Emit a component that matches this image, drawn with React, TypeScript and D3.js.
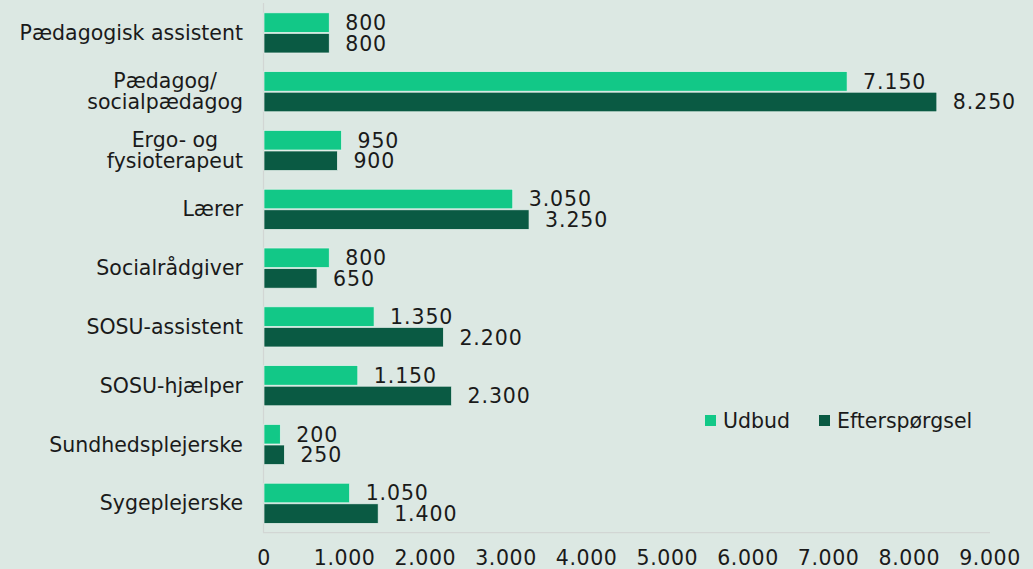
import React from "react";
import * as d3 from "d3";

const categories = [
  "Pædagogisk assistent",
  "Pædagog/\nsocialpædagog",
  "Ergo- og\nfysioterapeut",
  "Lærer",
  "Socialrådgiver",
  "SOSU-assistent",
  "SOSU-hjælper",
  "Sundhedsplejerske",
  "Sygeplejerske",
];
const udbud = [800, 7150, 950, 3050, 800, 1350, 1150, 200, 1050];
const efterspoergsel = [800, 8250, 900, 3250, 650, 2200, 2300, 250, 1400];
const xTicks = [0, 1000, 2000, 3000, 4000, 5000, 6000, 7000, 8000, 9000];
const seriesNames = ["Udbud", "Efterspørgsel"];

const width = 1033;
const height = 569;
const fontFamily = "'DejaVu Sans', sans-serif";
const fontSize = 20.5;
const textColor = "#1a1a1a";
const colors = ["#12c887", "#0a5a43"];

const fmt = (v: number) => d3.format(",")(v).replace(/,/g, ".");

let ctx: CanvasRenderingContext2D | null = null;
const measure = (s: string) => {
  if (!ctx) ctx = document.createElement("canvas").getContext("2d");
  if (!ctx) return s.length * 11;
  ctx.font = `${fontSize}px ${fontFamily}`;
  return ctx.measureText(s).width;
};

export default function App() {
  const x = d3.scaleLinear().domain([0, 9000]).range([264, 998]);
  const y = d3.scaleBand().domain(categories).range([3.5, 532.7]).paddingInner(0.3).paddingOuter(0.15);
  const barH = y.bandwidth() / 2;
  const labelRight = 243;

  return (
    <div style={{ position: "absolute", left: 0, top: 0 }}>
      <svg width={width} height={height} style={{ display: "block" }} fontFamily={fontFamily}>
        <rect width={width} height={height} fill="#dce8e3" />

        {/* axes */}
        <line x1={263.5} x2={263.5} y1={3} y2={532.7} stroke="#d2d6d4" strokeWidth={1.2} />
        <line x1={263} x2={990} y1={532.7} y2={532.7} stroke="#d2d6d4" strokeWidth={1.2} />

        {categories.map((cat, i) => {
          const y0 = y(cat)!;
          const center = y0 + y.bandwidth() / 2;
          const lines = cat.split("\n");
          const maxW = d3.max(lines, measure) || 0;
          const vals = [udbud[i], efterspoergsel[i]];
          return (
            <g key={cat}>
              {vals.map((v, j) => (
                <g key={j}>
                  <rect
                    x={x(0)}
                    y={y0 + j * barH + 0.5}
                    width={x(v) - x(0)}
                    height={barH - 1}
                    fill={colors[j]}
                    stroke="#e9f2ee"
                    strokeWidth={0.7}
                  />
                  <text
                    x={x(v) + 16}
                    y={y0 + j * barH + barH / 2}
                    dy="0.36em"
                    fontSize={fontSize}
                    letterSpacing={0.9}
                    fill={textColor}
                  >
                    {fmt(v)}
                  </text>
                </g>
              ))}
              {lines.map((line, k) => (
                <text
                  key={k}
                  x={lines.length > 1 ? labelRight - maxW / 2 : labelRight}
                  y={center + (k - (lines.length - 1) / 2) * 21}
                  dy="0.35em"
                  textAnchor={lines.length > 1 ? "middle" : "end"}
                  fontSize={fontSize}
                  fill={textColor}
                >
                  {line}
                </text>
              ))}
            </g>
          );
        })}

        {xTicks.map((t) => (
          <text
            key={t}
            x={x(t) - (t / 9000) * 8}
            y={558}
            dy="0.36em"
            textAnchor="middle"
            fontSize={fontSize}
            letterSpacing={0.6}
            fill={textColor}
          >
            {fmt(t)}
          </text>
        ))}

        {/* legend */}
        <g transform="translate(705,415)">
          {seriesNames.map((name, i) => (
            <g key={name} transform={`translate(${i * 114},0)`}>
              <rect width={11} height={11} fill={colors[i]} />
              <text x={18} y={5.5} dy="0.35em" fontSize={fontSize} fill={textColor}>
                {name}
              </text>
            </g>
          ))}
        </g>
      </svg>
    </div>
  );
}
